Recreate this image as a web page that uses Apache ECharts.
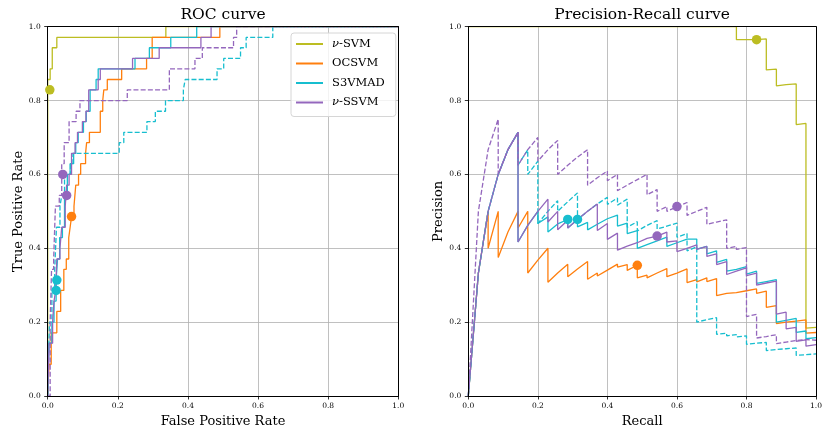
<!DOCTYPE html>
<html><head><meta charset="utf-8">
<script src="https://cdn.jsdelivr.net/npm/echarts@6/dist/echarts.min.js"></script>
<style>html,body{margin:0;padding:0;background:#fff}#c{width:825px;height:433px}</style>
</head><body><div id="c"></div>
<script>
// ---------- labels ----------
const methodNames = ['ν-SVM', 'OCSVM', 'S3VMAD', 'ν-SSVM'];
const methodColors = ['#bcbd22', '#ff7f0e', '#17becf', '#9467bd'];
const plotTitles = ['ROC curve', 'Precision-Recall curve'];
const xAxisNames = ['False Positive Rate', 'Recall'];
const yAxisNames = ['True Positive Rate', 'Precision'];
const tickValues = [0.0, 0.2, 0.4, 0.6, 0.8, 1.0];

// ---------- ROC curves: [FPR, TPR] corner points (step drawn by the library) ----------
const rocNuSvm = [[0,0],[0,0.857],[0.007,0.886],[0.013,0.943],[0.026,0.971],[0.337,1],[1,1]];
const rocOcsvm = [[0,0],[0.004,0.086],[0.01,0.171],[0.026,0.229],[0.037,0.286],[0.046,0.343],[0.053,0.371],[0.06,0.429],[0.064,0.457],[0.068,0.486],[0.075,0.514],[0.08,0.571],[0.088,0.6],[0.094,0.629],[0.108,0.657],[0.111,0.686],[0.119,0.714],[0.15,0.771],[0.157,0.8],[0.16,0.829],[0.17,0.857],[0.211,0.886],[0.282,0.914],[0.298,0.971],[0.491,1],[1,1]];
const rocS3vmad = [[0,0],[0.003,0.143],[0.012,0.2],[0.018,0.257],[0.024,0.314],[0.028,0.371],[0.034,0.429],[0.042,0.457],[0.048,0.543],[0.056,0.6],[0.064,0.629],[0.074,0.657],[0.08,0.686],[0.087,0.714],[0.102,0.743],[0.11,0.771],[0.121,0.829],[0.138,0.857],[0.144,0.886],[0.249,0.914],[0.29,0.943],[0.351,0.971],[0.425,1],[1,1]];
const rocS3vmadDashed = [[0,0],[0.005,0.2],[0.012,0.286],[0.02,0.343],[0.025,0.457],[0.035,0.514],[0.04,0.543],[0.048,0.6],[0.065,0.629],[0.072,0.657],[0.204,0.686],[0.217,0.714],[0.283,0.743],[0.307,0.771],[0.336,0.8],[0.387,0.829],[0.392,0.857],[0.483,0.886],[0.502,0.914],[0.55,0.943],[0.566,0.971],[0.642,1],[1,1]];
const rocNuSsvm = [[0,0],[0.004,0.143],[0.014,0.2],[0.018,0.257],[0.023,0.286],[0.026,0.371],[0.035,0.4],[0.04,0.457],[0.05,0.514],[0.054,0.571],[0.061,0.6],[0.068,0.657],[0.078,0.686],[0.085,0.714],[0.099,0.743],[0.109,0.771],[0.117,0.829],[0.144,0.857],[0.15,0.886],[0.242,0.914],[0.318,0.943],[0.437,0.971],[0.466,1],[1,1]];
const rocNuSsvmDashed = [[0,0],[0.007,0.2],[0.011,0.343],[0.017,0.371],[0.022,0.514],[0.033,0.543],[0.04,0.629],[0.047,0.686],[0.061,0.743],[0.081,0.771],[0.092,0.8],[0.227,0.829],[0.347,0.886],[0.42,0.914],[0.441,0.943],[0.53,0.971],[0.539,1],[1,1]];
const rocDots = [[[0.006,0.829]], [[0.068,0.486]], [[0.026,0.314],[0.024,0.286]], [[0.043,0.6],[0.054,0.543]]];

// ---------- Precision-Recall curves: [recall, precision] ----------
const prNuSvm = [[0,1],[0.771,1],[0.771,0.965],[0.829,0.965],[0.857,0.967],[0.857,0.883],[0.886,0.885],[0.886,0.84],[0.914,0.843],[0.943,0.845],[0.943,0.735],[0.971,0.738],[0.971,0.184],[1,0.186]];
const prOcsvm = [[0,0],[0.029,0.333],[0.057,0.5],[0.057,0.4],[0.086,0.5],[0.086,0.375],[0.114,0.444],[0.143,0.5],[0.143,0.455],[0.171,0.5],[0.171,0.333],[0.2,0.368],[0.229,0.4],[0.229,0.308],[0.257,0.333],[0.286,0.357],[0.286,0.323],[0.314,0.344],[0.343,0.364],[0.343,0.316],[0.371,0.333],[0.371,0.325],[0.4,0.341],[0.429,0.357],[0.429,0.349],[0.457,0.356],[0.457,0.34],[0.486,0.354],[0.486,0.32],[0.514,0.327],[0.514,0.32],[0.543,0.333],[0.571,0.345],[0.571,0.323],[0.6,0.333],[0.629,0.344],[0.629,0.307],[0.657,0.315],[0.657,0.309],[0.686,0.32],[0.686,0.31],[0.714,0.318],[0.714,0.272],[0.743,0.278],[0.743,0.274],[0.771,0.28],[0.8,0.285],[0.829,0.29],[0.829,0.278],[0.857,0.284],[0.857,0.24],[0.886,0.245],[0.886,0.196],[0.914,0.2],[0.943,0.203],[0.971,0.206],[0.971,0.17],[1,0.172]];
const prS3vmad = [[0,0],[0.029,0.333],[0.057,0.5],[0.086,0.6],[0.114,0.667],[0.143,0.714],[0.143,0.417],[0.171,0.462],[0.2,0.5],[0.2,0.467],[0.229,0.485],[0.229,0.444],[0.257,0.466],[0.286,0.478],[0.286,0.455],[0.314,0.478],[0.314,0.458],[0.343,0.47],[0.343,0.45],[0.371,0.465],[0.4,0.48],[0.429,0.49],[0.429,0.46],[0.457,0.468],[0.457,0.44],[0.486,0.448],[0.486,0.4],[0.514,0.41],[0.543,0.42],[0.571,0.43],[0.571,0.405],[0.6,0.415],[0.629,0.425],[0.657,0.425],[0.657,0.398],[0.686,0.405],[0.686,0.385],[0.714,0.393],[0.714,0.362],[0.743,0.37],[0.743,0.338],[0.771,0.343],[0.8,0.35],[0.8,0.33],[0.829,0.338],[0.829,0.305],[0.857,0.31],[0.886,0.315],[0.886,0.2],[0.914,0.205],[0.943,0.21],[0.943,0.172],[0.971,0.176],[0.971,0.155],[1,0.158]];
const prS3vmadDashed = [[0,0],[0.029,0.333],[0.057,0.5],[0.086,0.6],[0.114,0.667],[0.143,0.714],[0.143,0.625],[0.171,0.667],[0.171,0.6],[0.2,0.636],[0.2,0.467],[0.229,0.5],[0.257,0.529],[0.257,0.5],[0.286,0.526],[0.314,0.55],[0.314,0.478],[0.343,0.5],[0.371,0.52],[0.4,0.538],[0.4,0.519],[0.429,0.536],[0.429,0.517],[0.457,0.533],[0.457,0.457],[0.486,0.472],[0.486,0.447],[0.514,0.462],[0.543,0.475],[0.543,0.452],[0.571,0.46],[0.6,0.468],[0.6,0.43],[0.629,0.44],[0.629,0.393],[0.657,0.404],[0.657,0.2],[0.686,0.207],[0.714,0.212],[0.714,0.167],[0.743,0.17],[0.743,0.163],[0.771,0.166],[0.771,0.16],[0.8,0.163],[0.8,0.14],[0.829,0.143],[0.857,0.145],[0.857,0.123],[0.886,0.126],[0.914,0.128],[0.943,0.13],[0.943,0.11],[0.971,0.112],[1,0.114]];
const prNuSsvm = [[0,0],[0.029,0.333],[0.057,0.5],[0.086,0.6],[0.114,0.667],[0.143,0.714],[0.143,0.417],[0.171,0.462],[0.2,0.5],[0.229,0.533],[0.229,0.471],[0.257,0.5],[0.257,0.45],[0.286,0.476],[0.286,0.455],[0.314,0.478],[0.343,0.5],[0.371,0.52],[0.371,0.448],[0.4,0.467],[0.4,0.424],[0.429,0.441],[0.429,0.395],[0.457,0.406],[0.486,0.415],[0.514,0.427],[0.543,0.433],[0.571,0.444],[0.571,0.417],[0.6,0.42],[0.6,0.391],[0.629,0.4],[0.657,0.409],[0.657,0.397],[0.686,0.405],[0.686,0.378],[0.714,0.385],[0.714,0.356],[0.743,0.364],[0.743,0.329],[0.771,0.338],[0.8,0.347],[0.8,0.326],[0.829,0.333],[0.829,0.3],[0.857,0.306],[0.886,0.311],[0.886,0.222],[0.914,0.227],[0.914,0.182],[0.943,0.186],[0.943,0.148],[0.971,0.152],[0.971,0.135],[1,0.139]];
const prNuSsvmDashed = [[0,0],[0.029,0.5],[0.057,0.667],[0.086,0.75],[0.086,0.6],[0.114,0.667],[0.143,0.714],[0.143,0.625],[0.171,0.667],[0.2,0.7],[0.2,0.636],[0.229,0.667],[0.257,0.692],[0.257,0.6],[0.286,0.625],[0.314,0.647],[0.343,0.667],[0.343,0.571],[0.371,0.591],[0.4,0.609],[0.4,0.583],[0.429,0.6],[0.429,0.556],[0.457,0.571],[0.486,0.586],[0.514,0.6],[0.514,0.545],[0.543,0.559],[0.543,0.5],[0.571,0.513],[0.571,0.5],[0.6,0.512],[0.629,0.524],[0.629,0.489],[0.657,0.5],[0.686,0.511],[0.686,0.465],[0.714,0.471],[0.743,0.477],[0.743,0.4],[0.771,0.405],[0.771,0.397],[0.8,0.402],[0.8,0.215],[0.829,0.221],[0.829,0.157],[0.857,0.161],[0.886,0.166],[0.886,0.142],[0.914,0.146],[0.943,0.15],[0.971,0.153],[0.971,0.148],[1,0.151]];
const prDots = [[[0.829,0.965]], [[0.486,0.354]], [[0.286,0.478],[0.314,0.478]], [[0.543,0.433],[0.6,0.513]]];

// ---------- chart ----------
const FONT = 'DejaVu Serif';
const chart = echarts.init(document.getElementById('c'), null, {renderer: 'canvas', width: 825, height: 433});
const DASH = [5, 2.2];
const LW = 1.3;
const SPINE = {show: true, onZero: false, lineStyle: {color: '#000', width: 1}};
const GRIDLINE = {show: true, showMinLine: false, showMaxLine: false, lineStyle: {color: '#b0b0b0', width: 0.8}};
const tickFmt = v => tickValues.find(t => Math.abs(t - v) < 1e-9).toFixed(1);

function grid(left, width) {
  return {left: left, top: 26.7, width: width, height: 375, show: false, containLabel: false};
}
// main bottom axis: ticks, labels, gridlines, name
function bottomAxis(gi, name) {
  return {type: 'value', gridIndex: gi, min: 0, max: 1, interval: 0.2, position: 'bottom', z: 0,
    name: name, nameLocation: 'middle', nameGap: 19,
    nameTextStyle: {fontFamily: FONT, fontSize: 13, color: '#000'},
    axisLine: {show: false},
    axisTick: {show: true, length: 3.5, lineStyle: {color: '#000', width: 0.8}},
    axisLabel: {fontFamily: FONT, fontSize: 7.5, color: '#000', margin: 6, formatter: tickFmt},
    splitLine: GRIDLINE};
}
// spine-only axis drawn above the curves (like matplotlib spines)
function spineX(gi, pos, title) {
  const a = {type: 'value', gridIndex: gi, min: 0, max: 1, position: pos, z: 3,
    axisLine: SPINE, axisTick: {show: false}, axisLabel: {show: false}, splitLine: {show: false}};
  if (title) {
    a.name = title; a.nameLocation = 'middle'; a.nameGap = 4;
    a.nameTextStyle = {fontFamily: FONT, fontSize: 15.5, color: '#000'};
  }
  return a;
}
function leftAxis(gi, name, gap) {
  return {type: 'value', gridIndex: gi, min: 0, max: 1, interval: 0.2, position: 'left', z: 0,
    name: name, nameLocation: 'middle', nameGap: gap,
    nameTextStyle: {fontFamily: FONT, fontSize: 13, color: '#000'},
    axisLine: {show: false},
    axisTick: {show: true, length: 3.5, lineStyle: {color: '#000', width: 0.8}},
    axisLabel: {fontFamily: FONT, fontSize: 7.5, color: '#000', margin: 7, formatter: tickFmt},
    splitLine: GRIDLINE};
}
function spineY(gi, pos) {
  return {type: 'value', gridIndex: gi, min: 0, max: 1, position: pos, z: 3,
    axisLine: SPINE, axisTick: {show: false}, axisLabel: {show: false}, splitLine: {show: false}};
}
function lineSeries(name, data, ci, dashed, xi, yi, step) {
  return {type: 'line', name: name, data: data, xAxisIndex: xi, yAxisIndex: yi,
    step: step ? 'end' : false, symbol: 'none', showSymbol: false, silent: true, z: 2,
    lineStyle: {color: methodColors[ci], width: LW, type: dashed ? DASH : 'solid'},
    itemStyle: {color: methodColors[ci]}};
}
function dotSeries(data, ci, xi, yi) {
  return {type: 'scatter', name: 'dot' + ci + '_' + xi, data: data, xAxisIndex: xi, yAxisIndex: yi,
    symbol: 'circle', symbolSize: 9.5, silent: true, z: 5, itemStyle: {color: methodColors[ci], opacity: 1}};
}

// xAxis indices: 0 main-left, 1 top-left, 2 bottom-spine-left, 3 main-right, 4 top-right, 5 bottom-spine-right
// yAxis indices: 0 main-left, 1 left-spine-left, 2 right-spine-left, 3 main-right, 4 left-spine-right, 5 right-spine-right
const XL = 0, XR = 3, YL = 0, YR = 3;
const series = [
  lineSeries(methodNames[0], rocNuSvm, 0, false, XL, YL, true),
  lineSeries(methodNames[1], rocOcsvm, 1, false, XL, YL, true),
  lineSeries(methodNames[2], rocS3vmad, 2, false, XL, YL, true),
  lineSeries(methodNames[2] + ' (dashed)', rocS3vmadDashed, 2, true, XL, YL, true),
  lineSeries(methodNames[3], rocNuSsvm, 3, false, XL, YL, true),
  lineSeries(methodNames[3] + ' (dashed)', rocNuSsvmDashed, 3, true, XL, YL, true),
  lineSeries(methodNames[0] + ' PR', prNuSvm, 0, false, XR, YR, false),
  lineSeries(methodNames[1] + ' PR', prOcsvm, 1, false, XR, YR, false),
  lineSeries(methodNames[2] + ' PR', prS3vmad, 2, false, XR, YR, false),
  lineSeries(methodNames[2] + ' PR (dashed)', prS3vmadDashed, 2, true, XR, YR, false),
  lineSeries(methodNames[3] + ' PR', prNuSsvm, 3, false, XR, YR, false),
  lineSeries(methodNames[3] + ' PR (dashed)', prNuSsvmDashed, 3, true, XR, YR, false)
];
rocDots.forEach((d, i) => series.push(dotSeries(d, i, XL, YL)));
prDots.forEach((d, i) => series.push(dotSeries(d, i, XR, YR)));

const option = {
  animation: false,
  backgroundColor: '#fff',
  grid: [grid(47.7, 350.6), grid(468.3, 350)],
  xAxis: [bottomAxis(0, xAxisNames[0]), spineX(0, 'top', plotTitles[0]), spineX(0, 'bottom'),
          bottomAxis(1, xAxisNames[1]), spineX(1, 'top', plotTitles[1]), spineX(1, 'bottom')],
  yAxis: [leftAxis(0, yAxisNames[0], 22), spineY(0, 'left'), spineY(0, 'right'),
          leftAxis(1, yAxisNames[1], 20), spineY(1, 'left'), spineY(1, 'right')],
  legend: {
    data: methodNames, left: 291, top: 33, orient: 'vertical',
    itemWidth: 27, itemHeight: 10, itemGap: 7.5,
    padding: [5, 11, 8, 4],
    backgroundColor: 'rgba(255,255,255,0.8)', borderColor: '#d6d6d6', borderWidth: 1, borderRadius: 3,
    selectedMode: false,
    itemStyle: {opacity: 0},
    formatter: n => n.charAt(0) === 'ν' ? '{it|ν}' + n.slice(1) : n,
    textStyle: {fontFamily: FONT, fontSize: 11.5, color: '#000', padding: [0, 0, 0, 4],
      rich: {it: {fontFamily: FONT, fontSize: 11.5, fontStyle: 'italic', color: '#000'}}}
  },
  series: series
};
chart.setOption(option);
</script>
</body></html>
